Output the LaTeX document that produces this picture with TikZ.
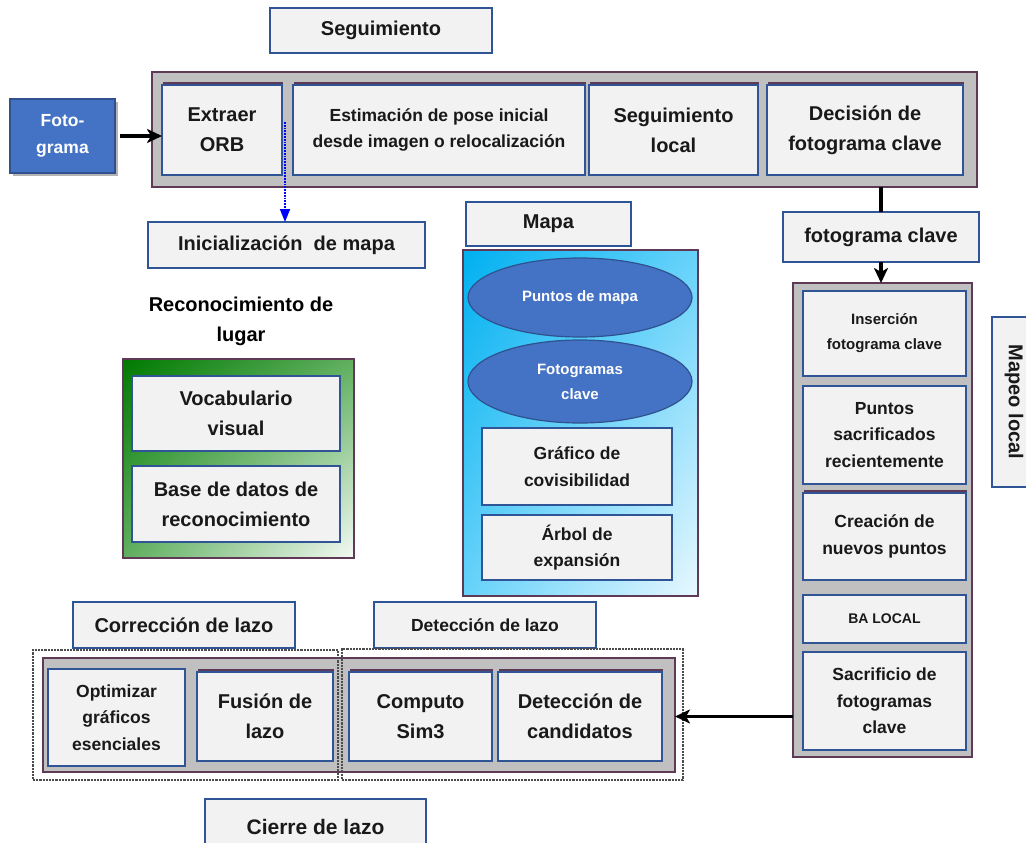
\documentclass[tikz,border=0pt]{standalone}
\usepackage{fontspec}
\setmainfont{Liberation Sans}
\usetikzlibrary{shapes, shadows, shadings, positioning, arrows.meta, calc}
\definecolor{boxFill}{HTML}{F2F2F2}
\definecolor{boxLine}{HTML}{2F5597}
\definecolor{frameFill}{HTML}{C0C0C0}
\definecolor{frameLine}{HTML}{5E3A57}
\definecolor{fotoBlue}{HTML}{4472C4}
\definecolor{fotoLine}{HTML}{2F528F}
\definecolor{mapTop}{HTML}{00B0F0}
\definecolor{mapMid}{HTML}{66D2FA}
\definecolor{mapLow}{HTML}{E8F8FF}
\definecolor{placeTop}{HTML}{007A00}
\definecolor{placeMid}{HTML}{5FAF5F}
\definecolor{placeLow}{HTML}{F4FAF4}
\tikzstyle{box}=[draw=boxLine, fill=boxFill, line width=2pt, align=center, outer sep=0pt, inner sep=2pt, text=black!90]
\tikzstyle{lifted}=[general shadow={fill=frameLine, shadow xshift=1pt, shadow yshift=3pt}]
\tikzstyle{frame}=[draw=frameLine, fill=frameFill, line width=2pt, outer sep=0pt]
\tikzstyle{zone}=[draw=black!70, densely dotted, line width=2.2pt, outer sep=0pt]
\tikzstyle{blob}=[ellipse, draw=fotoLine, fill=fotoBlue, line width=1.2pt, text=white, align=center, inner sep=0pt, outer sep=0pt]
\tikzstyle{photo}=[draw=fotoLine, fill=fotoBlue, line width=1.5pt, text=white, align=center, outer sep=0pt, drop shadow={shadow xshift=3pt, shadow yshift=-3pt, opacity=.6}]
\tikzstyle{arrow}=[-{Stealth[length=15pt, width=14pt, inset=4pt]}, line width=3.5pt, draw=black]
\tikzstyle{darrow}=[-{Triangle[length=13pt, width=10pt]}, densely dotted, line width=1.8pt, draw=blue]
\tikzstyle{fbig}=[font=\bfseries\fontsize{20}{30}\selectfont]
\tikzstyle{fmid}=[font=\bfseries\fontsize{17.5}{26.5}\selectfont]
\tikzstyle{fsmall}=[font=\bfseries\fontsize{15}{25}\selectfont]

\begin{document}
\begin{tikzpicture}[x=1pt, y=-1pt, node distance=9pt]
  \useasboundingbox (0,0) rectangle (1026,843);

  % tracking
  \node (seg) [box, fbig, minimum width=222pt, minimum height=45pt] at (381,30.5) {Seguimiento};
  \node (foto) [photo, fmid, minimum width=105pt, minimum height=74pt] at (62.5,136) {Foto-\\grama};
  \node (tracking) [frame, minimum width=825pt, minimum height=115pt] at (564.5,129.5) {};
  \node (orb) [box, lifted, fbig, minimum width=120pt, minimum height=90pt] at (222,130) {Extraer\\ORB};
  \node (pose) [box, lifted, fmid, minimum width=292pt, minimum height=90pt, right=11pt of orb] {Estimación de pose inicial\\desde imagen o relocalización};
  \node (segloc) [box, lifted, fbig, minimum width=169pt, minimum height=90pt, right=4pt of pose] {Seguimiento\\local};
  \node (decis) [box, lifted, fbig, minimum width=196pt, minimum height=90pt, right=9pt of segloc] {Decisión de\\fotograma clave};
  \node (ini) [box, fbig, minimum width=277pt, minimum height=46pt] at (286.5,245) {Inicialización~ de mapa};

  % map
  \node (mapaT) [box, fbig, minimum width=165pt, minimum height=44pt] at (548.5,224) {Mapa};
  \node (map) [frame, upper left=mapTop, upper right=mapMid, lower left=mapMid, lower right=mapLow,
    minimum width=235pt, minimum height=346pt] at (580.5,423) {};
  \node (pts) [blob, fsmall, minimum width=224pt, minimum height=79pt] at (580,297.5) {Puntos de mapa};
  \node (fgs) [blob, fsmall, minimum width=224pt, minimum height=83pt, below=3pt of pts] {Fotogramas\\clave};
  \node (graf) [box, fmid, minimum width=190pt, minimum height=77pt] at (577,466.5) {Gráfico de\\covisibilidad};
  \node (arbol) [box, fmid, minimum width=190pt, minimum height=65pt, below=10pt of graf] {Árbol de\\expansión};

  % place recognition
  \node (lugar) [fbig, align=center] at (241,321) {Reconocimiento de\\lugar};
  \node (place) [frame, upper left=placeTop, upper right=placeMid, lower left=placeMid, lower right=placeLow,
    minimum width=231pt, minimum height=199pt] at (238.5,458.5) {};
  \node (voc) [box, fbig, minimum width=208pt, minimum height=75pt] at (236,413.5) {Vocabulario\\visual};
  \node (base) [box, fbig, minimum width=208pt, minimum height=76pt, below=15pt of voc] {Base de datos de\\reconocimiento};

  % local mapping
  \node (fgc) [box, fbig, minimum width=196pt, minimum height=50pt] at (881,237) {fotograma clave};
  \node (mapping) [frame, minimum width=179pt, minimum height=474pt] at (882.5,520) {};
  \node (ins) [box, fsmall, minimum width=163pt, minimum height=85pt] at (884.5,333.5) {Inserción\\fotograma clave};
  \node (psac) [box, fmid, minimum width=163pt, minimum height=98pt, below=10pt of ins] {Puntos\\sacrificados\\recientemente};
  \node (crea) [box, lifted, fmid, minimum width=163pt, minimum height=87pt, below=9pt of psac] {Creación de\\nuevos puntos};
  \node (ba) [box, font=\bfseries\fontsize{14}{20}\selectfont, minimum width=163pt, minimum height=48pt, below=15pt of crea] {BA LOCAL};
  \node (sacr) [box, fmid, minimum width=163pt, minimum height=98pt, below=9pt of ba] {Sacrificio de\\fotogramas\\clave};
  \node (mapeo) [box, fbig, rotate=-90, minimum width=170pt, minimum height=44pt] at (1014,402) {Mapeo local};

  % loop closing
  \node (correc) [box, fbig, minimum width=222pt, minimum height=46pt] at (184,625) {Corrección de lazo};
  \node (detec) [box, fmid, minimum width=222pt, minimum height=46pt] at (485,625) {Detección de lazo};
  \node (loop) [frame, minimum width=632pt, minimum height=114pt] at (359,715) {};
  \node (opt) [box, fmid, minimum width=137pt, minimum height=97pt] at (116.5,717.5) {Optimizar\\gráficos\\esenciales};
  \node (fus) [box, lifted, fbig, minimum width=136pt, minimum height=89pt] at (265,716.5) {Fusión de\\lazo};
  \node (comp) [box, lifted, fbig, minimum width=143pt, minimum height=89pt] at (420.5,716.5) {Computo\\Sim3};
  \node (cand) [box, lifted, fbig, minimum width=164pt, minimum height=89pt, right=6pt of comp] {Detección de\\candidatos};
  \node (zoneL) [zone, minimum width=305pt, minimum height=130pt] at (185.5,715) {};
  \node (zoneR) [zone, minimum width=341pt, minimum height=131pt] at (512.5,714.5) {};
  \node (cierre) [box, font=\bfseries\fontsize{21}{30}\selectfont, minimum width=221pt, minimum height=56pt] at (315.5,827) {Cierre de lazo};

  \draw [arrow, shorten <=5pt] (foto.east) -- (foto.east -| orb.west);
  \draw [darrow] ([xshift=3pt, yshift=8pt]orb.east) -- ([xshift=3pt]orb.east |- ini.north);
  \draw [line width=4pt] (fgc.north) -- (fgc.north |- tracking.south);
  \draw [arrow] (fgc.south) -- (fgc.south |- mapping.north);
  \draw [arrow] (cand -| mapping.west) -- (cand -| loop.east);
\end{tikzpicture}
\end{document}
